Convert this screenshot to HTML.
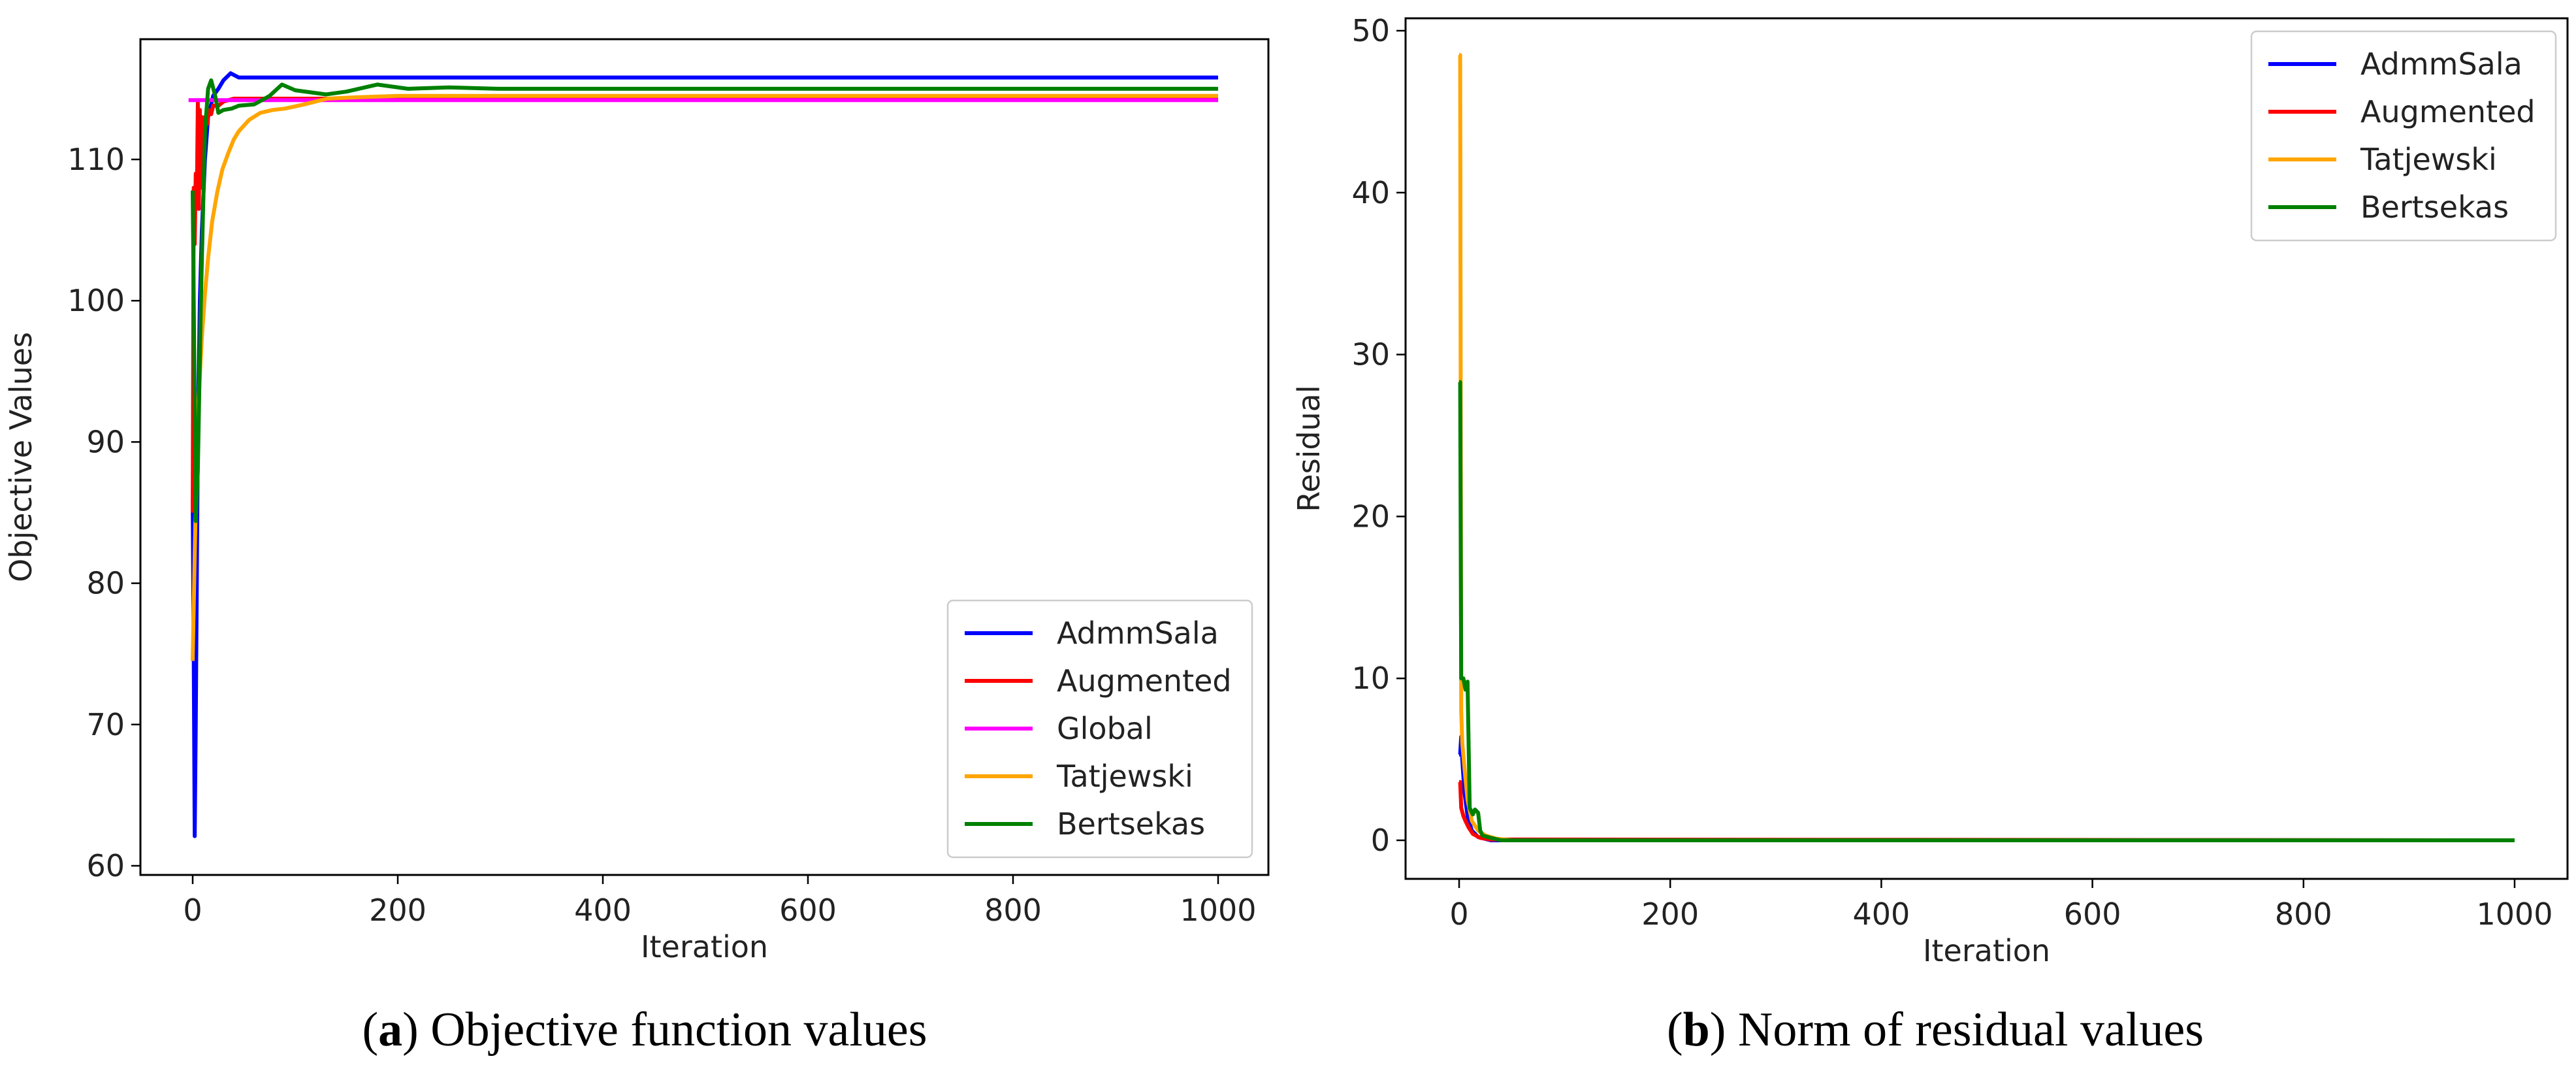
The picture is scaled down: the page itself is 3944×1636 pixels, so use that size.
<!DOCTYPE html>
<html><head><meta charset="utf-8"><style>
html,body{margin:0;padding:0;background:#fff;}
svg{display:block;}
text{font-family:"DejaVu Sans","Liberation Sans",sans-serif;fill:#222;}
.cap{font-family:"Liberation Serif",serif;fill:#000;}
</style></head><body>
<svg id="fig" width="3944" height="1636" viewBox="0 0 3944 1636" xmlns="http://www.w3.org/2000/svg">
<g id="chartA"></g>
<g id="chartB"></g>
<text class="cap" x="987" y="1600" font-size="74" text-anchor="middle">(<tspan font-weight="bold">a</tspan>) Objective function values</text>
<text class="cap" x="2963" y="1600" font-size="74" text-anchor="middle">(<tspan font-weight="bold">b</tspan>) Norm of residual values</text>
</svg>
<script>
// ---- Chart A data ----
const xTicksA = [0,200,400,600,800,1000];
const yTicksA = [60,70,80,90,100,110];
const namesA = ["AdmmSala","Augmented","Global","Tatjewski","Bertsekas"];
const blueXA = [0,1,2,3,5,7,9,12,15,20,25,30,37,45,55,70,1000];
const blueYA = [86,75,62.1,70,90,100,105,110,113,114.5,115,115.6,116.1,115.8,115.8,115.8,115.8];
const redXA = [0,1,2,3,4,5,6,7,8,9,10,12,14,16,18,20,25,30,40,1000];
const redYA = [85,108,104,109,107,114,106.5,113.5,108,113,110,113,112.5,113.5,113.2,113.8,113.8,114.1,114.3,114.3];
const globalXA = [-4,1000];
const globalYA = [114.2,114.2];
const orangeXA = [0,2,5,9,12,15,19,24,29,35,40,45,55,66,78,90,109,131,160,200,300,1000];
const orangeYA = [74.5,82,92,97.4,100.5,103,105.6,107.7,109.3,110.5,111.4,112,112.8,113.3,113.5,113.6,113.9,114.3,114.4,114.5,114.5,114.5];
const greenXA = [0,1,3,5,8,12,15,18,22,25,30,38,45,60,75,87,100,130,150,180,210,250,300,1000];
const greenYA = [107.8,100,84.4,88,100,112,115,115.6,114.5,113.3,113.5,113.6,113.8,113.9,114.5,115.3,114.9,114.6,114.8,115.3,115.0,115.1,115.0,115.0];
// ---- Chart B data ----
const xTicksB = [0,200,400,600,800,1000];
const yTicksB = [0,10,20,30,40,50];
const namesB = ["AdmmSala","Augmented","Tatjewski","Bertsekas"];
const blueXB = [0,1,2,3,5,8,12,18,30,1000];
const blueYB = [5.3,5.3,6.4,5,3,1.5,0.6,0.2,0,0];
const redXB = [0,1,2,4,6,9,13,20,30,1000];
const redYB = [3.6,3.6,2,1.5,1.2,0.8,0.4,0.15,0.05,0];
const orangeXB = [0,1,2,3,5,8,12,18,25,35,50,1000];
const orangeYB = [48.5,48.5,8,6,4.5,2.5,1.2,0.6,0.3,0.1,0,0];
const greenXB = [0,1,2,4,6,8,10,13,15,18,20,22,30,40,1000];
const greenYB = [28.3,28.3,10,10,9.3,9.8,2,1.6,1.9,1.7,0.6,0.3,0.15,0,0];

const NS="http://www.w3.org/2000/svg";
function mk(parent,tag,attrs){const e=document.createElementNS(NS,tag);for(const k in attrs)e.setAttribute(k,attrs[k]);parent.appendChild(e);return e;}
const COL={AdmmSala:"#0000ff",Augmented:"#ff0000",Global:"#ff00ff",Tatjewski:"#ffa500",Bertsekas:"#008000"};

function drawChart(g,box,xr,yr,xTicks,yTicks,series,ylabel,leg,prefix){
  const sx=v=>box.x0px+(v-xr[0])/(xr[1]-xr[0])*(box.x1px-box.x0px);
  const sy=v=>box.y0px-(v-yr[0])/(yr[1]-yr[0])*(box.y0px-box.y1px);
  const frame=mk(g,"rect",{x:box.l,y:box.t,width:box.r-box.l,height:box.b-box.t,fill:"#fff",stroke:"#000","stroke-width":3});
  
  
  const clipId=prefix+"clip";
  const cp=mk(mk(g,"defs",{}),"clipPath",{id:clipId});
  mk(cp,"rect",{x:box.l,y:box.t,width:box.r-box.l,height:box.b-box.t});
  xTicks.forEach(t=>{
    const x=sx(t);
    const tk=mk(g,"line",{x1:x,x2:x,y1:box.b,y2:box.b+14,stroke:"#000","stroke-width":2.5});
    
    
    const tl=mk(g,"text",{x:x,y:box.b+70,"font-size":46,"text-anchor":"middle"});
    tl.textContent=t;
    
    
  });
  yTicks.forEach(t=>{
    const y=sy(t);
    const tk=mk(g,"line",{x1:box.l-14,x2:box.l,y1:y,y2:y,stroke:"#000","stroke-width":2.5});
    
    
    const tl=mk(g,"text",{x:box.l-24,y:y+16,"font-size":46,"text-anchor":"end"});
    tl.textContent=t;
    
    
  });
  const xl=mk(g,"text",{x:(box.l+box.r)/2,y:box.b+126,"font-size":46,"text-anchor":"middle"});
  xl.textContent="Iteration";
  
  
  const yl=mk(g,"text",{x:0,y:0,"font-size":46,"text-anchor":"middle",transform:`translate(${box.ylx},${(box.t+box.b)/2}) rotate(-90)`});
  yl.textContent=ylabel;
  
  
  const lg=mk(g,"g",{"clip-path":`url(#${clipId})`});
  series.forEach(s=>{
    const d=s.x.map((v,i)=>(i?"L":"M")+sx(v).toFixed(1)+","+sy(s.y[i]).toFixed(1)).join(" ");
    const p=mk(lg,"path",{d:d,fill:"none",stroke:COL[s.name],"stroke-width":6,"stroke-linejoin":"round"});
    
    
  });
  const n=series.length, step=73;
  const lb=mk(g,"rect",{x:leg.l,y:leg.t,width:466,height:n*step+28,rx:8,fill:"#fff",stroke:"#ccc","stroke-width":2.5});
  
  
  series.forEach((s,i)=>{
    const y=leg.t+50+i*step;
    const ll=mk(g,"line",{x1:leg.l+26,x2:leg.l+130,y1:y,y2:y,stroke:COL[s.name],"stroke-width":6});
    
    
    const lt=mk(g,"text",{x:leg.l+167,y:y+16,"font-size":46});
    lt.textContent=s.name;
    
    
  });
}

drawChart(document.getElementById("chartA"),
  {l:215,r:1942,t:60,b:1339,x0px:295,x1px:1865,y0px:1325,y1px:244,ylx:48},
  [0,1000],[60,110],xTicksA,yTicksA,
  [{name:"AdmmSala",x:blueXA,y:blueYA},{name:"Augmented",x:redXA,y:redYA},{name:"Global",x:globalXA,y:globalYA},{name:"Tatjewski",x:orangeXA,y:orangeYA},{name:"Bertsekas",x:greenXA,y:greenYA}],
  "Objective Values",{l:1451,t:919},"a");
drawChart(document.getElementById("chartB"),
  {l:2152,r:3931,t:28,b:1345,x0px:2234,x1px:3850,y0px:1286,y1px:47,ylx:2020},
  [0,1000],[0,50],xTicksB,yTicksB,
  [{name:"AdmmSala",x:blueXB,y:blueYB},{name:"Augmented",x:redXB,y:redYB},{name:"Tatjewski",x:orangeXB,y:orangeYB},{name:"Bertsekas",x:greenXB,y:greenYB}],
  "Residual",{l:3447,t:48},"b");
</script>
</body></html>
